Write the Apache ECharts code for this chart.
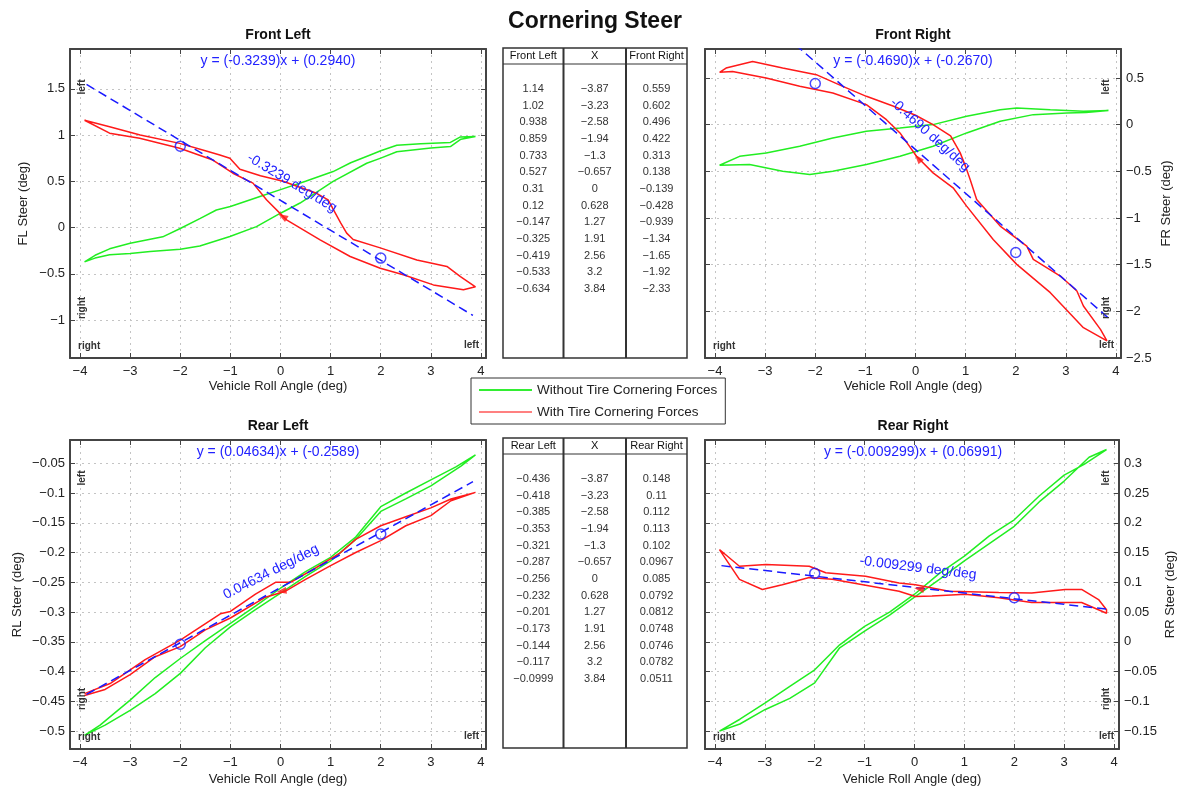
<!DOCTYPE html>
<html>
<head>
<meta charset="utf-8">
<script src="https://cdn.jsdelivr.net/npm/echarts@6/dist/echarts.min.js"></script>
<style>
html, body { margin: 0; padding: 0; background: #fff; }
#chart { width: 1178px; height: 787px; }
</style>
</head>
<body>
<div id="chart"></div>
<script>
// ---- table data ----
var rollX = [-3.87, -3.23, -2.58, -1.94, -1.3, -0.657, 0, 0.628, 1.27, 1.91, 2.56, 3.2, 3.84];
var frontLeftTab = [1.14, 1.02, 0.938, 0.859, 0.733, 0.527, 0.31, 0.12, -0.147, -0.325, -0.419, -0.533, -0.634];
var frontRightTab = [0.559, 0.602, 0.496, 0.422, 0.313, 0.138, -0.139, -0.428, -0.939, -1.34, -1.65, -1.92, -2.33];
var rearLeftTab = [-0.436, -0.418, -0.385, -0.353, -0.321, -0.287, -0.256, -0.232, -0.201, -0.173, -0.144, -0.117, -0.0999];
var rearRightTab = [0.148, 0.11, 0.112, 0.113, 0.102, 0.0967, 0.085, 0.0792, 0.0812, 0.0748, 0.0746, 0.0782, 0.0511];

// ---- Front Left ----
var flGreen = [[-3.91,-0.37],[-3.7,-0.3],[-3.41,-0.23],[-3.0,-0.17],[-2.35,-0.1],[-2.0,-0.01],[-1.6,0.1],[-1.28,0.19],[-1.0,0.227],[-0.41,0.335],[0,0.41],[0.5,0.5],[1.05,0.605],[1.4,0.7],[1.79,0.785],[2.0,0.83],[2.32,0.89],[2.8,0.905],[3.39,0.92],[3.59,0.98],[3.89,0.985],
  [3.6,0.955],[3.39,0.875],[3.0,0.86],[2.32,0.82],[2.0,0.75],[1.72,0.695],[1.05,0.5],[0.39,0.265],[0,0.155],[-0.48,0.01],[-1.01,-0.097],[-1.61,-0.2],[-2.0,-0.235],[-2.6,-0.26],[-3.0,-0.28],[-3.41,-0.295],[-3.7,-0.33],[-3.91,-0.37]];
var flRed = [[-3.91,1.16],[-3.41,1.09],[-2.8,1.0],[-2.01,0.91],[-1.5,0.83],[-1.21,0.785],[-1.01,0.75],[-0.81,0.63],[-0.4,0.56],[0.05,0.5],[0.72,0.37],[0.95,0.3],[1.05,0.2],[1.2,0.05],[1.32,-0.06],[1.45,-0.13],[1.99,-0.22],[2.72,-0.35],[3.32,-0.42],[3.59,-0.53],[3.89,-0.64],
  [3.65,-0.673],[3.05,-0.62],[2.45,-0.51],[1.99,-0.44],[1.39,-0.313],[0.79,-0.133],[0.12,0.083],[-0.28,0.3],[-0.55,0.48],[-0.95,0.587],[-1.35,0.73],[-2.01,0.857],[-2.81,0.965],[-3.41,1.02],[-3.91,1.16]];
var flFit = [[-3.87, 1.547], [3.84, -0.950]];
var flCircles = [[-2, 0.88], [2, -0.33]];
var flArrow = [[0.04, 0.12]];

// ---- Front Right ----
var frGreen = [[-3.91,-0.435],[-3.51,-0.34],[-2.98,-0.303],[-2.31,-0.232],[-1.65,-0.143],[-0.98,-0.071],[-0.31,-0.036],[0.35,0],[1.02,0.089],[1.69,0.16],[2.02,0.178],[2.69,0.16],[3.35,0.143],[3.85,0.15],
  [3.4,0.13],[3.02,0.125],[2.35,0.107],[1.69,0.036],[1.02,-0.089],[0.35,-0.232],[-0.31,-0.339],[-0.98,-0.428],[-1.65,-0.499],[-2.11,-0.535],[-2.65,-0.499],[-3.31,-0.428],[-3.91,-0.435]];
var frRed = [[-3.91,0.56],[-3.78,0.606],[-3.25,0.677],[-2.65,0.606],[-1.98,0.535],[-1.45,0.41],[-0.98,0.303],[-0.45,0.2],[0.0,0.1],[0.35,0.0],[0.7,-0.12],[0.89,-0.3],[1.0,-0.45],[1.09,-0.588],[1.22,-0.802],[1.69,-1.087],[2.22,-1.301],[2.35,-1.444],[2.89,-1.622],[3.22,-1.783],[3.35,-1.943],[3.69,-2.193],[3.82,-2.317],
  [3.35,-2.175],[2.69,-1.8],[2.02,-1.497],[1.55,-1.23],[1.02,-0.873],[0.75,-0.677],[0.35,-0.517],[0.02,-0.339],[-0.31,-0.089],[-0.58,0.053],[-0.98,0.214],[-1.65,0.339],[-2.31,0.41],[-2.98,0.499],[-3.65,0.57],[-3.91,0.56]];
var frFit = [[-3.87, 1.548], [3.84, -2.068]];
var frCircles = [[-2, 0.44], [2, -1.37]];
var frArrow = [[0.05, -0.36]];

// ---- Rear Left ----
var rlGreen = [[-3.91,-0.507],[-3.6,-0.49],[-3.0,-0.448],[-2.5,-0.41],[-2.0,-0.378],[-1.5,-0.348],[-1.0,-0.319],[-0.5,-0.29],[0,-0.26],[0.5,-0.232],[1.0,-0.208],[1.5,-0.174],[2.0,-0.123],[2.5,-0.1],[3.0,-0.078],[3.5,-0.056],[3.89,-0.036],
  [3.6,-0.055],[3.0,-0.088],[2.5,-0.11],[2.0,-0.131],[1.5,-0.178],[1.0,-0.214],[0.5,-0.24],[0,-0.268],[-0.5,-0.296],[-1.0,-0.325],[-1.5,-0.36],[-2.0,-0.403],[-2.5,-0.437],[-3.0,-0.465],[-3.5,-0.49],[-3.91,-0.507]];
var rlRed = [[-3.91,-0.437],[-3.4,-0.42],[-2.7,-0.38],[-2.0,-0.347],[-1.2,-0.303],[-1.0,-0.299],[-0.5,-0.27],[-0.1,-0.25],[0.2,-0.25],[0.7,-0.226],[1.2,-0.2],[1.5,-0.178],[2.0,-0.155],[2.5,-0.14],[3.0,-0.125],[3.4,-0.11],[3.89,-0.099],
  [3.4,-0.113],[3.0,-0.138],[2.5,-0.155],[2.0,-0.18],[1.5,-0.2],[1.0,-0.222],[0.5,-0.245],[0.1,-0.265],[-0.3,-0.275],[-1.0,-0.31],[-1.5,-0.33],[-2.0,-0.358],[-2.5,-0.375],[-3.0,-0.405],[-3.5,-0.43],[-3.91,-0.44]];
var rlFit = [[-3.87, -0.4382], [3.84, -0.0810]];
var rlCircles = [[-2, -0.354], [2, -0.169]];
var rlArrow = [[0.02, -0.265]];

// ---- Rear Right ----
var rrGreen = [[-3.91,-0.15],[-3.5,-0.13],[-3.0,-0.103],[-2.5,-0.075],[-2.0,-0.047],[-1.5,-0.005],[-1.0,0.026],[-0.5,0.05],[0,0.08],[0.5,0.115],[1.0,0.144],[1.5,0.178],[2.0,0.205],[2.5,0.245],[3.0,0.28],[3.4,0.298],[3.85,0.323],
  [3.5,0.31],[3.0,0.27],[2.5,0.235],[2.0,0.194],[1.5,0.165],[1.0,0.136],[0.5,0.105],[0,0.075],[-0.5,0.045],[-1.0,0.018],[-1.5,-0.01],[-2.0,-0.069],[-2.5,-0.095],[-3.0,-0.114],[-3.5,-0.138],[-3.91,-0.15]];
var rrRed = [[-3.91,0.155],[-3.51,0.127],[-2.98,0.13],[-2.11,0.127],[-1.78,0.116],[-0.98,0.11],[-0.31,0.099],[0.02,0.096],[0.69,0.085],[1.69,0.083],[2.35,0.082],[3.02,0.088],[3.35,0.088],[3.69,0.071],[3.85,0.054],
  [3.85,0.048],[3.35,0.066],[3.02,0.066],[2.35,0.066],[1.69,0.074],[1.02,0.08],[0.35,0.077],[0.02,0.076],[-0.31,0.085],[-0.98,0.095],[-1.65,0.105],[-2.11,0.108],[-2.65,0.096],[-3.05,0.088],[-3.51,0.105],[-3.91,0.155]];
var rrFit = [[-3.87, 0.128], [3.84, 0.055]];
var rrCircles = [[-2, 0.115], [2, 0.074]];
var rrArrow = [[0.09, 0.089]];

var FONT = '"Liberation Sans", Arial, Helvetica, sans-serif';
var GREEN_NAME = 'Without Tire Cornering Forces';
var RED_NAME = 'With Tire Cornering Forces';

var panels = [
  { title: 'Front Left', left: 70, top: 49, yMin: -1.41, yMax: 1.93, split: 7, yName: 'FL Steer (deg)', side: 'left', nameGap: 40, showMinY: false,
    green: flGreen, red: flRed, fit: flFit, circles: flCircles, arrow: flArrow, arrowRot: 59,
    eq: 'y = (-0.3239)x + (0.2940)', slope: '-0.3239 deg/deg', slopePos: [292, 183], slopeRot: -31 },
  { title: 'Front Right', left: 705, top: 49, yMin: -2.5, yMax: 0.81, split: 7, yName: 'FR Steer (deg)', side: 'right', nameGap: 39, showMinY: true,
    green: frGreen, red: frRed, fit: frFit, circles: frCircles, arrow: frArrow, arrowRot: 40,
    eq: 'y = (-0.4690)x + (-0.2670)', slope: '-0.4690 deg/deg', slopePos: [930, 135], slopeRot: -42 },
  { title: 'Rear Left', left: 70, top: 440, yMin: -0.53, yMax: -0.011, split: 10, yName: 'RL Steer (deg)', side: 'left', nameGap: 46, showMinY: false,
    green: rlGreen, red: rlRed, fit: rlFit, circles: rlCircles, arrow: rlArrow, arrowRot: 100,
    eq: 'y = (0.04634)x + (-0.2589)', slope: '0.04634 deg/deg', slopePos: [271, 572], slopeRot: 27 },
  { title: 'Rear Right', left: 705, top: 440, yMin: -0.18, yMax: 0.339, split: 10, yName: 'RR Steer (deg)', side: 'right', nameGap: 45, showMinY: false,
    green: rrGreen, red: rrRed, fit: rrFit, circles: rrCircles, arrow: rrArrow, arrowRot: 81,
    eq: 'y = (-0.009299)x + (0.06991)', slope: '-0.009299 deg/deg', slopePos: [918, 568], slopeRot: -7 }
];

var PW = 416, PH = 309;

function fmt(v) { return String(v).replace('-', '\u2212'); }

var grids = [], xAxes = [], yAxes = [], series = [], graphics = [];

function text(x, y, s, size, color, weight, rot, align) {
  return {
    type: 'text', x: x, y: y, rotation: (rot || 0) * Math.PI / 180, z: 50,
    style: { text: s, fill: color, align: align || 'center', verticalAlign: 'middle',
             font: (weight || 'normal') + ' ' + size + 'px ' + FONT }
  };
}

panels.forEach(function (p, i) {
  grids.push({ left: p.left, top: p.top, width: PW, height: PH, show: true,
               borderWidth: 0, backgroundColor: '#fff' });
  var tick = { show: true, inside: true, length: 5, lineStyle: { color: '#444', width: 1 } };
  var line = { show: true, onZero: false, lineStyle: { color: '#444', width: 2 } };
  var grid = { show: true, lineStyle: { color: '#c4c4c4', type: [2, 4], width: 1 } };
  // main x (bottom)
  xAxes.push({ gridIndex: i, type: 'value', position: 'bottom', min: -4.2, max: 4.1, splitNumber: 8,
    axisLine: line, axisTick: tick, splitLine: grid,
    axisLabel: { formatter: fmt, showMinLabel: false, showMaxLabel: false, margin: 7,
                 fontFamily: FONT, fontSize: 13, color: '#222' },
    name: 'Vehicle Roll Angle (deg)', nameLocation: 'middle', nameGap: i < 2 ? 22 : 24,
    nameTextStyle: { fontFamily: FONT, fontSize: 13, color: '#222' } });
  // top x (ticks only)
  xAxes.push({ gridIndex: i, type: 'value', position: 'top', min: -4.2, max: 4.1, splitNumber: 8,
    axisLine: line, axisTick: tick, splitLine: { show: false }, axisLabel: { show: false } });
  // main y
  yAxes.push({ gridIndex: i, type: 'value', position: p.side, min: p.yMin, max: p.yMax, splitNumber: p.split,
    axisLine: line, axisTick: tick, splitLine: grid,
    axisLabel: { formatter: fmt, showMinLabel: p.showMinY, showMaxLabel: false, margin: 5,
                 fontFamily: FONT, fontSize: 13, color: '#222' },
    name: p.yName, nameLocation: 'middle', nameGap: p.nameGap, nameRotate: 90,
    nameTextStyle: { fontFamily: FONT, fontSize: 13, color: '#222' } });
  // opposite y (ticks only)
  yAxes.push({ gridIndex: i, type: 'value', position: p.side === 'left' ? 'right' : 'left',
    min: p.yMin, max: p.yMax, splitNumber: p.split,
    axisLine: line, axisTick: tick, splitLine: { show: false }, axisLabel: { show: false } });

  var xi = 2 * i, yi = 2 * i;
  series.push({ name: GREEN_NAME, type: 'line', xAxisIndex: xi, yAxisIndex: yi, data: p.green,
    showSymbol: false, symbol: 'none', lineStyle: { color: '#22ee22', width: 1.5 }, itemStyle: { color: '#22ee22' },
    animation: false, z: 2 });
  series.push({ name: RED_NAME, type: 'line', xAxisIndex: xi, yAxisIndex: yi, data: p.red,
    showSymbol: false, symbol: 'none', lineStyle: { color: '#ff1a1a', width: 1.5 }, itemStyle: { color: '#ff1a1a' },
    animation: false, z: 3 });
  series.push({ name: 'fit' + i, type: 'line', xAxisIndex: xi, yAxisIndex: yi, data: p.fit,
    showSymbol: false, symbol: 'none', lineStyle: { color: '#1a1aff', width: 1.5, type: [9, 5] },
    animation: false, z: 4 });
  series.push({ name: 'pts' + i, type: 'scatter', xAxisIndex: xi, yAxisIndex: yi, data: p.circles,
    symbol: 'circle', symbolSize: 10,
    itemStyle: { color: 'rgba(0,0,0,0)', borderColor: '#1a1aff', borderWidth: 1.5 }, animation: false, z: 5 });
  series.push({ name: 'arrow' + i, type: 'scatter', xAxisIndex: xi, yAxisIndex: yi, data: p.arrow,
    symbol: 'triangle', symbolSize: [7, 10], symbolRotate: p.arrowRot,
    itemStyle: { color: '#ff1a1a' }, animation: false, z: 5 });

  var cx = p.left + PW / 2;
  graphics.push(text(cx, p.top - 14, p.title, 14, '#111', 'bold'));
  graphics.push(text(cx, p.top + 12, p.eq, 14, '#2222ff'));
  graphics.push(text(p.slopePos[0], p.slopePos[1], p.slope, 14, '#2222ff', 'normal', p.slopeRot));

  // corner direction labels
  var vx = p.side === 'left' ? p.left + 12 : p.left + PW - 15;
  graphics.push(text(vx, p.top + 38, 'left', 10, '#333', 'bold', 90));
  graphics.push(text(vx, p.top + 259, 'right', 10, '#333', 'bold', 90));
  graphics.push(text(p.left + 8, p.top + PH - 12, 'right', 10, '#333', 'bold', 0, 'left'));
  graphics.push(text(p.left + PW - 7, p.top + PH - 13, 'left', 10, '#333', 'bold', 0, 'right'));
});

// main title
graphics.push(text(595, 22, 'Cornering Steer', 23, '#111', 'bold'));

// tables
function table(top, headers, cols) {
  var L = 503, W = 184, H = 310, c1 = 563.5, c2 = 626;
  graphics.push({ type: 'rect', shape: { x: L, y: top, width: W, height: H }, z: 40,
    style: { fill: '#fff', stroke: '#333', lineWidth: 1.5 } });
  graphics.push({ type: 'line', shape: { x1: c1, y1: top, x2: c1, y2: top + H }, z: 41, style: { stroke: '#333', lineWidth: 2 } });
  graphics.push({ type: 'line', shape: { x1: c2, y1: top, x2: c2, y2: top + H }, z: 41, style: { stroke: '#333', lineWidth: 2 } });
  graphics.push({ type: 'line', shape: { x1: L, y1: top + 16, x2: L + W, y2: top + 16 }, z: 41, style: { stroke: '#333', lineWidth: 1 } });
  var centers = [(L + c1) / 2, (c1 + c2) / 2, (c2 + L + W) / 2];
  headers.forEach(function (h, k) { graphics.push(text(centers[k], top + 8, h, 11, '#111')); });
  cols.forEach(function (col, k) {
    col.forEach(function (v, r) {
      graphics.push(text(centers[k], top + 41 + r * 16.67, fmt(v), 11, '#333'));
    });
  });
}
table(48, ['Front Left', 'X', 'Front Right'], [frontLeftTab, rollX, frontRightTab]);
table(438, ['Rear Left', 'X', 'Rear Right'], [rearLeftTab, rollX, rearRightTab]);

var chart = echarts.init(document.getElementById('chart'));
chart.setOption({
  backgroundColor: '#fff',
  animation: false,
  grid: grids,
  xAxis: xAxes,
  yAxis: yAxes,
  legend: {
    left: 471, top: 378, orient: 'vertical', selectedMode: false,
    itemWidth: 53, itemHeight: 2, itemGap: 8, icon: 'rect',
    padding: [5, 8, 5, 8], borderColor: '#333', borderWidth: 1, backgroundColor: '#fff',
    textStyle: { fontFamily: FONT, fontSize: 13.5, color: '#222' },
    data: [
      { name: GREEN_NAME, itemStyle: { color: '#33ee33' } },
      { name: RED_NAME, itemStyle: { color: '#ff8080' } }
    ]
  },
  series: series,
  graphic: graphics
});
</script>
</body>
</html>
